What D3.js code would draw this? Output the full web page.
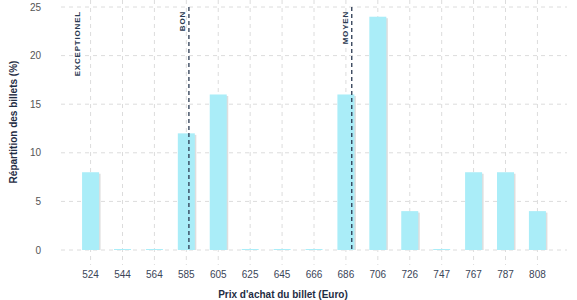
<!DOCTYPE html>
<html>
<head>
<meta charset="utf-8">
<script src="https://cdn.jsdelivr.net/npm/d3@7"></script>
<style>
  body { margin: 0; background: #fff; }
  text { font-family: "Liberation Sans", Arial, sans-serif; }
</style>
</head>
<body>
<div id="chart"></div>
<script>
// prix (Euro) et répartition (%)
const prices = ["524","544","564","585","605","625","645","666","686","706","726","747","767","787","808"];
const shares = [8, 0, 0, 12, 16, 0, 0, 0, 16, 24, 4, 0, 8, 8, 4];
const yTicks = [0, 5, 10, 15, 20, 25];
const thresholdLabels = ["EXCEPTIONEL", "BON", "MOYEN"];
const thresholdPrices = [520, 586.5, 690];
const thresholdLines = [false, true, true];

const width = 577, height = 300;
const margin = {top: 7, left: 61, right: 10, bottom: 50};

let svg = d3.select("#chart").append("svg").attr("width", width).attr("height", height);

let x = d3.scaleBand().domain(prices).range([margin.left, width - margin.right]).paddingInner(0.467).paddingOuter(0.66);
let y = d3.scaleLinear().domain([0, 25]).range([height - margin.bottom, margin.top]);
// position of a price between the categories
let xp = d3.scaleLinear()
    .domain([+prices[0], +prices[prices.length-1]])
    .range([x(prices[0]) + x.bandwidth()/2, x(prices[prices.length-1]) + x.bandwidth()/2]);

// grid
svg.append("g").selectAll("line").data(yTicks).enter().append("line")
    .attr("x1", margin.left).attr("x2", width - margin.right)
    .attr("y1", d => y(d)).attr("y2", d => y(d))
    .attr("stroke", "#dcdcdc").attr("stroke-dasharray", "4,4");
svg.append("g").selectAll("line").data(prices).enter().append("line")
    .attr("x1", d => x(d) + x.bandwidth()/2).attr("x2", d => x(d) + x.bandwidth()/2)
    .attr("y1", 0).attr("y2", y(0) + 15)
    .attr("stroke", "#dcdcdc").attr("stroke-dasharray", "4,4");

// y tick labels
svg.append("g").selectAll("text").data(yTicks).enter().append("text")
    .attr("x", 41).attr("y", d => y(d) + 3.5)
    .attr("text-anchor", "end").attr("font-size", 10).attr("fill", "#555")
    .text(d => d);

// x tick labels
svg.append("g").selectAll("text").data(prices).enter().append("text")
    .attr("x", d => x(d) + x.bandwidth()/2).attr("y", y(0) + 28)
    .attr("text-anchor", "middle").attr("font-size", 10).attr("fill", "#3a4558")
    .text(d => d);

// bars with light shadow
let bars = svg.append("g");
prices.forEach(function(p, i){
    let h = Math.max(y(0) - y(shares[i]), 1);
    bars.append("rect")
        .attr("x", x(p) + 1.5).attr("y", y(0) - h + 1.5)
        .attr("width", x.bandwidth()).attr("height", h - 1.5)
        .attr("fill", "#dedede");
    bars.append("rect")
        .attr("x", x(p)).attr("y", y(0) - h)
        .attr("width", x.bandwidth()).attr("height", h)
        .attr("fill", "#aaedf8");
});

// thresholds
thresholdLabels.forEach(function(label, i){
    let xx = xp(thresholdPrices[i]);
    if (thresholdLines[i]) {
        svg.append("line")
            .attr("x1", xx).attr("x2", xx).attr("y1", y(25)).attr("y2", y(0))
            .attr("stroke", "#2b3a52").attr("stroke-width", 1.3).attr("stroke-dasharray", "4,3");
    }
    svg.append("text")
        .attr("transform", "translate(" + (xx - 4) + ",11) rotate(-90)")
        .attr("text-anchor", "end").attr("font-size", 8).attr("font-weight", "bold")
        .attr("letter-spacing", 0.8).attr("fill", "#2b3a52")
        .text(label);
});

// axis titles
svg.append("text")
    .attr("x", 283).attr("y", 298)
    .attr("text-anchor", "middle").attr("font-size", 10).attr("font-weight", "bold").attr("fill", "#1f2d44")
    .text("Prix d'achat du billet (Euro)");
svg.append("text")
    .attr("transform", "translate(17,122) rotate(-90)")
    .attr("text-anchor", "middle").attr("font-size", 10).attr("font-weight", "bold").attr("fill", "#1f2d44")
    .text("Répartition des billets (%)");
</script>
</body>
</html>
